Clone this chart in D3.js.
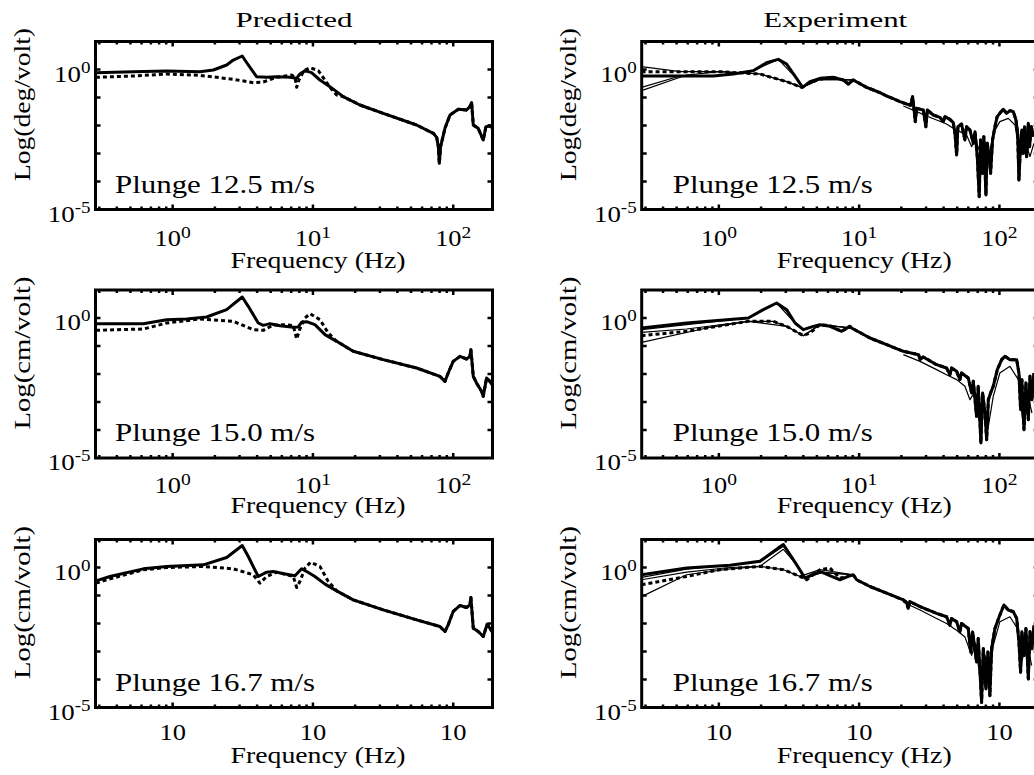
<!DOCTYPE html>
<html>
<head>
<meta charset="utf-8">
<script src="https://cdn.jsdelivr.net/npm/d3@7"></script>
<style>
  body { margin: 0; background: #fff; }
  text { font-family: "Times New Roman", Times, "Liberation Serif", "DejaVu Serif", serif; fill: #000; }
</style>
</head>
<body>
<svg id="chart"></svg>
<script>
// Values as [log10 frequency (Hz), log10 magnitude].
const columnTitles = ["Predicted", "Experiment"];
const speeds = ["12.5", "15.0", "16.7"];
const units = ["deg/volt", "cm/volt", "cm/volt"];
const xTickValues = [1, 10, 100];
const xTickExponents = ["0", "1", "2"];
const showXExponent = [true, true, false];   // bottom row prints bare "10"
const yTickValues = [1, 1e-5];
const yTickExponents = ["0", "-5"];

// ---- Predicted, 12.5 m/s
const predSolidHead125 = [[-0.547,-0.113],[-0.281,-0.077],[-0.043,-0.054],[0.195,-0.077],[0.290,-0.018],[0.385,0.161],[0.432,0.339],[0.496,0.482],[0.539,0.161],[0.598,-0.256],[0.670,-0.280],[0.741,-0.256],[0.836,-0.280],[0.883,-0.315],[0.907,-0.161],[0.943,-0.042],[0.990,-0.113],[1.050,-0.375],[1.121,-0.613]];
const predDashHead125 = [[-0.547,-0.280],[-0.281,-0.232],[-0.043,-0.161],[0.195,-0.208],[0.432,-0.351],[0.575,-0.470],[0.646,-0.446],[0.741,-0.280],[0.848,-0.196],[0.872,-0.280],[0.884,-0.637],[0.900,-0.375],[0.936,-0.042],[0.979,0.065],[1.038,-0.042],[1.086,-0.375],[1.121,-0.637],[1.169,-0.911]];
const predTail125 = [[1.216,-0.970],[1.335,-1.268],[1.501,-1.565],[1.739,-1.982],[1.858,-2.280],[1.882,-2.423],[1.894,-2.756],[1.901,-3.351],[1.910,-2.756],[1.941,-2.101],[1.977,-1.625],[2.036,-1.423],[2.095,-1.446],[2.119,-1.327],[2.131,-1.185],[2.143,-1.982],[2.178,-2.101],[2.214,-2.518],[2.233,-2.042],[2.262,-2.018],[2.285,-2.101]];

// ---- Predicted, 15.0 m/s
const predSolidHead150 = [[-0.546,-0.202],[-0.209,-0.202],[-0.043,-0.060],[0.100,-0.036],[0.242,0.036],[0.385,0.298],[0.496,0.750],[0.539,0.417],[0.610,-0.179],[0.646,-0.262],[0.694,-0.202],[0.765,-0.274],[0.860,-0.333],[0.895,-0.321],[0.919,-0.155],[0.955,-0.131],[1.014,-0.238],[1.086,-0.595]];
const predDashHead150 = [[-0.546,-0.440],[-0.209,-0.393],[-0.043,-0.179],[0.195,-0.036],[0.432,-0.119],[0.575,-0.417],[0.646,-0.440],[0.717,-0.250],[0.812,-0.238],[0.860,-0.274],[0.884,-0.750],[0.903,-0.440],[0.943,0.000],[0.979,0.155],[1.050,-0.060],[1.109,-0.536]];
const predTail150 = [[1.169,-0.833],[1.287,-1.190],[1.501,-1.488],[1.739,-1.786],[1.905,-2.083],[1.941,-2.262],[1.964,-1.964],[2.000,-1.548],[2.048,-1.369],[2.095,-1.464],[2.119,-1.369],[2.126,-1.131],[2.143,-2.083],[2.166,-2.321],[2.202,-2.619],[2.214,-2.798],[2.238,-2.143],[2.261,-2.262],[2.285,-2.440]];

// ---- Predicted, 16.7 m/s
const predSolidHead167 = [[-0.547,-0.476],[-0.447,-0.321],[-0.209,-0.048],[-0.043,0.036],[0.219,0.095],[0.385,0.357],[0.496,0.786],[0.539,0.393],[0.610,-0.321],[0.670,-0.167],[0.717,-0.143],[0.812,-0.238],[0.872,-0.298],[0.919,-0.048],[0.955,-0.143],[1.014,-0.321],[1.086,-0.595]];
const predDashHead167 = [[-0.547,-0.560],[-0.447,-0.405],[-0.209,-0.083],[-0.043,0.000],[0.219,0.036],[0.432,-0.048],[0.575,-0.262],[0.622,-0.560],[0.670,-0.321],[0.741,-0.167],[0.860,-0.321],[0.884,-0.714],[0.907,-0.500],[0.943,-0.024],[0.983,0.190],[1.050,0.036],[1.109,-0.500]];
const predTail167 = [[1.169,-0.833],[1.287,-1.155],[1.501,-1.512],[1.739,-1.869],[1.905,-2.107],[1.941,-2.286],[1.964,-2.048],[2.000,-1.571],[2.048,-1.357],[2.095,-1.429],[2.119,-1.333],[2.126,-1.071],[2.143,-2.167],[2.178,-2.286],[2.214,-2.464],[2.242,-2.024],[2.285,-2.345]];

// ---- Experiment, 12.5 m/s
const expSolidHead125 = [[-0.551,-0.232],[-0.349,-0.232],[-0.040,-0.232],[0.103,-0.161],[0.245,-0.042],[0.340,0.244],[0.424,0.363],[0.483,0.196],[0.554,-0.315],[0.597,-0.637],[0.649,-0.435],[0.721,-0.315],[0.816,-0.280],[0.887,-0.375],[0.923,-0.518]];
const expDashHead125 = [[-0.551,-0.077],[-0.349,-0.077],[0.008,-0.077],[0.293,-0.161],[0.483,-0.435],[0.590,-0.637],[0.649,-0.470],[0.721,-0.351],[0.816,-0.280],[0.887,-0.375],[0.923,-0.518]];
const expNoise125 = [[0.958,-0.375],[1.053,-0.637],[1.101,-0.732],[1.148,-0.827],[1.196,-0.946],[1.243,-1.042],[1.291,-1.149],[1.338,-1.232],[1.367,-1.280],[1.381,-0.970],[1.393,-1.506],[1.400,-1.863],[1.410,-1.387],[1.457,-1.446],[1.476,-2.042],[1.486,-1.446],[1.528,-1.625],[1.576,-1.708],[1.600,-1.863],[1.612,-1.685],[1.647,-1.780],[1.671,-1.899],[1.683,-2.280],[1.695,-3.054],[1.704,-2.042],[1.730,-1.946],[1.754,-2.518],[1.766,-2.042],[1.790,-2.161],[1.814,-2.637],[1.826,-2.220],[1.842,-3.113],[1.856,-4.542],[1.866,-2.518],[1.880,-3.708],[1.889,-2.399],[1.904,-4.482],[1.913,-2.637],[1.928,-3.113],[1.937,-3.708],[1.951,-2.518],[1.968,-2.042],[1.984,-1.685],[2.003,-1.565],[2.027,-1.423],[2.051,-1.565],[2.075,-1.470],[2.099,-1.506],[2.118,-1.804],[2.130,-2.280],[2.139,-3.946],[2.151,-2.637],[2.160,-2.161],[2.170,-2.994],[2.179,-2.042],[2.194,-3.113],[2.206,-1.923],[2.215,-2.756],[2.227,-2.042],[2.244,-2.399]];
const expBand125 = [[1.315,-1.304],[1.410,-1.506],[1.481,-1.661],[1.552,-1.804],[1.623,-1.946],[1.671,-2.101],[1.718,-2.220],[1.766,-2.339],[1.802,-2.756],[1.826,-2.458],[1.873,-3.113],[1.897,-2.637],[1.921,-3.232],[1.956,-2.280],[2.003,-1.863],[2.063,-1.744],[2.111,-1.982],[2.146,-3.113],[2.182,-2.518],[2.218,-3.113],[2.246,-2.637]];
const expThin125 = [
  [[-0.551,0.101],[-0.277,-0.077],[0.008,-0.077],[0.293,-0.161],[0.483,-0.435],[0.590,-0.637],[0.721,-0.351],[0.958,-0.375]],
  [[-0.551,-0.637],[-0.277,-0.232],[-0.040,-0.232],[0.245,-0.042],[0.424,0.363],[0.554,-0.315],[0.597,-0.637],[0.721,-0.315],[0.958,-0.375]],
  [[-0.551,-0.756],[-0.230,-0.196],[0.008,-0.077],[0.293,-0.161],[0.483,-0.435],[0.590,-0.637],[0.721,-0.351],[0.958,-0.375]]
];

// ---- Experiment, 15.0 m/s
const expSolidHead150 = [[-0.551,-0.357],[-0.230,-0.179],[0.210,0.000],[0.317,0.298],[0.412,0.536],[0.483,0.298],[0.543,-0.179],[0.602,-0.417],[0.673,-0.298],[0.721,-0.238],[0.792,-0.298],[0.875,-0.476],[0.934,-0.298]];
const expDashHead150 = [[-0.551,-0.631],[-0.230,-0.476],[0.210,-0.119],[0.388,-0.119],[0.483,-0.298],[0.602,-0.631],[0.649,-0.536],[0.721,-0.238],[0.792,-0.274],[0.875,-0.476],[0.934,-0.298]];
const expNoise150 = [[0.946,-0.357],[1.077,-0.714],[1.196,-0.952],[1.315,-1.190],[1.424,-1.310],[1.434,-1.488],[1.457,-1.393],[1.552,-1.667],[1.623,-1.786],[1.647,-2.024],[1.659,-1.786],[1.695,-1.905],[1.718,-2.202],[1.730,-1.964],[1.778,-2.143],[1.802,-2.679],[1.814,-2.262],[1.837,-3.512],[1.849,-2.440],[1.868,-4.464],[1.880,-2.679],[1.897,-3.393],[1.909,-4.345],[1.921,-2.917],[1.937,-2.679],[1.956,-2.440],[1.985,-1.845],[2.016,-1.488],[2.039,-1.369],[2.075,-1.488],[2.123,-1.488],[2.139,-1.964],[2.151,-3.274],[2.160,-2.202],[2.175,-3.988],[2.189,-2.321],[2.206,-3.631],[2.218,-2.083],[2.232,-2.917],[2.246,-1.964]];
const expBand150 = [[1.315,-1.310],[1.434,-1.548],[1.552,-1.845],[1.623,-2.024],[1.695,-2.202],[1.754,-2.440],[1.790,-2.917],[1.826,-2.619],[1.856,-3.631],[1.889,-3.036],[1.921,-3.869],[1.956,-2.798],[2.003,-1.964],[2.075,-1.726],[2.135,-2.202],[2.165,-3.631],[2.198,-2.679],[2.232,-3.393]];
const expThin150 = [
  [[-0.551,-0.512],[-0.230,-0.393],[0.210,-0.119],[0.388,-0.119],[0.483,-0.298],[0.602,-0.631],[0.721,-0.238],[0.946,-0.357]],
  [[-0.551,-0.869],[-0.087,-0.357],[0.210,-0.119],[0.483,-0.298],[0.602,-0.631],[0.721,-0.238],[0.946,-0.357]],
  [[-0.551,-0.417],[-0.230,-0.238],[0.210,0.000],[0.412,0.536],[0.543,-0.179],[0.602,-0.417],[0.721,-0.238],[0.946,-0.357]]
];

// ---- Experiment, 16.7 m/s
const expSolidHead167 = [[-0.551,-0.258],[-0.230,-0.018],[0.080,0.078],[0.293,0.222],[0.424,0.702],[0.460,0.822],[0.554,0.102],[0.614,-0.378],[0.673,-0.234],[0.733,-0.162],[0.804,-0.318],[0.863,-0.438],[0.923,-0.318],[0.958,-0.258]];
const expDashHead167 = [[-0.551,-0.618],[-0.230,-0.318],[0.008,-0.078],[0.293,0.042],[0.460,-0.078],[0.578,-0.318],[0.626,-0.438],[0.721,-0.078],[0.792,-0.018],[0.863,-0.378],[0.958,-0.258]];
const expNoise167 = [[0.982,-0.438],[1.077,-0.678],[1.196,-0.918],[1.315,-1.158],[1.338,-1.243],[1.350,-1.459],[1.362,-1.219],[1.434,-1.399],[1.552,-1.639],[1.623,-1.759],[1.647,-2.059],[1.659,-1.819],[1.695,-1.939],[1.718,-2.299],[1.730,-1.999],[1.778,-2.179],[1.795,-3.019],[1.809,-2.299],[1.837,-3.379],[1.849,-2.539],[1.873,-4.820],[1.885,-2.899],[1.904,-4.340],[1.918,-3.019],[1.932,-4.580],[1.944,-2.899],[1.968,-2.179],[2.003,-1.699],[2.032,-1.339],[2.063,-1.519],[2.099,-1.579],[2.123,-1.819],[2.139,-2.659],[2.151,-3.739],[2.160,-2.299],[2.175,-3.139],[2.189,-2.179],[2.206,-3.979],[2.218,-2.299],[2.232,-2.899],[2.246,-2.059]];
const expBand167 = [[1.315,-1.243],[1.434,-1.519],[1.552,-1.819],[1.623,-1.999],[1.695,-2.239],[1.754,-2.479],[1.802,-3.139],[1.826,-2.719],[1.861,-3.860],[1.897,-3.139],[1.928,-4.100],[1.956,-2.779],[2.003,-1.939],[2.075,-1.759],[2.128,-2.179],[2.159,-3.379],[2.194,-2.659],[2.230,-3.499]];
const expThin167 = [
  [[-0.551,-0.438],[-0.230,-0.162],[0.080,0.000],[0.293,0.042],[0.460,-0.078],[0.578,-0.318],[0.721,-0.078],[0.958,-0.258]],
  [[-0.551,-1.039],[-0.230,-0.258],[0.080,-0.050],[0.293,0.042],[0.460,0.650],[0.554,0.102],[0.614,-0.378],[0.733,-0.162],[0.958,-0.258]],
  [[-0.551,-0.354],[-0.230,-0.060],[0.293,0.200],[0.460,0.760],[0.554,0.080],[0.614,-0.400],[0.733,-0.180],[0.958,-0.258]]
];

const panels = [
  {col: 0, row: 0, solid: predSolidHead125.concat(predTail125), dashed: predDashHead125.concat(predTail125), thin: []},
  {col: 1, row: 0, solid: expSolidHead125.concat(expNoise125), dashed: expDashHead125.concat(expNoise125), thin: expThin125.concat([expBand125])},
  {col: 0, row: 1, solid: predSolidHead150.concat(predTail150), dashed: predDashHead150.concat(predTail150), thin: []},
  {col: 1, row: 1, solid: expSolidHead150.concat(expNoise150), dashed: expDashHead150.concat(expNoise150), thin: expThin150.concat([expBand150])},
  {col: 0, row: 2, solid: predSolidHead167.concat(predTail167), dashed: predDashHead167.concat(predTail167), thin: []},
  {col: 1, row: 2, solid: expSolidHead167.concat(expNoise167), dashed: expDashHead167.concat(expNoise167), thin: expThin167.concat([expBand167])}
];

// layout
const W = 1034, H = 775;
const panelW = 397, panelH = 168;
const colX = [95.5, 641.7];
const rowY = [41.5, 290, 539.5];
const plungeDx = [19.5, 31];
const xLabelDy = [36, 35, 32];
const freqLabelDy = [58, 55, 55];

const svg = d3.select("#chart").attr("width", W).attr("height", H);

const x = d3.scaleLog().domain([Math.pow(10, -0.55), Math.pow(10, 2.28)]).range([0, panelW]);
const y = d3.scaleLog().domain([1e-5, 10]).range([panelH, 0]);
const line = d3.line()
  .x(d => x(Math.pow(10, d[0])))
  .y(d => y(Math.pow(10, d[1])));

// column titles
columnTitles.forEach((t, c) => {
  svg.append("text")
    .attr("x", colX[c] + panelW / 2 - (c == 0 ? 0 : 5))
    .attr("y", 27)
    .attr("text-anchor", "middle")
    .attr("textLength", c == 0 ? 117 : 144)
    .attr("lengthAdjust", "spacingAndGlyphs")
    .style("font-size", "22px")
    .text(t);
});

panels.forEach((p, i) => {
  let g = svg.append("g").attr("transform", "translate(" + colX[p.col] + "," + rowY[p.row] + ")");

  g.append("clipPath").attr("id", "clip" + i)
    .append("rect").attr("width", panelW).attr("height", panelH);

  let plot = g.append("g").attr("clip-path", "url(#clip" + i + ")");

  p.thin.forEach(t => {
    plot.append("path").attr("d", line(t))
      .attr("fill", "none").attr("stroke", "#000").attr("stroke-width", 1.2)
      .attr("stroke-linejoin", "round");
  });

  plot.append("path").attr("d", line(p.dashed))
    .attr("fill", "none").attr("stroke", "#000").attr("stroke-width", 3)
    .attr("stroke-dasharray", "4,3").attr("stroke-linejoin", "round");

  plot.append("path").attr("d", line(p.solid))
    .attr("fill", "none").attr("stroke", "#000").attr("stroke-width", 3)
    .attr("stroke-linejoin", "round");

  // inward ticks on all four sides
  let xt = x.ticks();
  let tickLen = (v) => xTickValues.indexOf(v) >= 0 ? 5 : 3;
  g.append("g").selectAll("line").data(xt).join("line")
    .attr("x1", d => x(d)).attr("x2", d => x(d))
    .attr("y1", panelH).attr("y2", d => panelH - tickLen(d))
    .attr("stroke", "#000").attr("stroke-width", 2.5);
  g.append("g").selectAll("line").data(xt).join("line")
    .attr("x1", d => x(d)).attr("x2", d => x(d))
    .attr("y1", 0).attr("y2", d => tickLen(d))
    .attr("stroke", "#000").attr("stroke-width", 2.5);

  let yt = [1e-4, 1e-3, 1e-2, 1e-1, 1];
  g.append("g").selectAll("line").data(yt).join("line")
    .attr("x1", 0).attr("x2", 5)
    .attr("y1", d => y(d)).attr("y2", d => y(d))
    .attr("stroke", "#000").attr("stroke-width", 2.5);
  g.append("g").selectAll("line").data(yt).join("line")
    .attr("x1", panelW).attr("x2", panelW - 5)
    .attr("y1", d => y(d)).attr("y2", d => y(d))
    .attr("stroke", "#000").attr("stroke-width", 2.5);

  g.append("rect")
    .attr("width", panelW).attr("height", panelH)
    .attr("fill", "none").attr("stroke", "#000").attr("stroke-width", 3);

  // x tick labels
  xTickValues.forEach((v, k) => {
    let t = g.append("text")
      .attr("transform", "translate(" + x(v) + "," + (panelH + xLabelDy[p.row]) + ") scale(1.15,1)")
      .attr("text-anchor", "middle")
      .style("font-size", "23px");
    t.append("tspan").text("10");
    if (showXExponent[p.row]) {
      t.append("tspan").attr("dy", -8).style("font-size", "17px").text(xTickExponents[k]);
    }
  });

  // y tick labels
  yTickValues.forEach((v, k) => {
    let t = g.append("text")
      .attr("transform", "translate(-5," + (y(v) + 12) + ") scale(1.12,1)")
      .attr("text-anchor", "end")
      .style("font-size", "24px");
    t.append("tspan").text("10");
    t.append("tspan").attr("dy", -9).style("font-size", "17px").text(yTickExponents[k]);
  });

  // axis titles
  g.append("text")
    .attr("x", panelW / 2 + 24).attr("y", panelH + freqLabelDy[p.row])
    .attr("text-anchor", "middle")
    .attr("textLength", 175).attr("lengthAdjust", "spacingAndGlyphs")
    .style("font-size", "23px")
    .text("Frequency (Hz)");

  g.append("text")
    .attr("transform", "translate(-66," + (panelH / 2 - 21) + ") rotate(-90)")
    .attr("text-anchor", "middle")
    .attr("textLength", 153).attr("lengthAdjust", "spacingAndGlyphs")
    .style("font-size", "23px")
    .text("Log(" + units[p.row] + ")");

  g.append("text")
    .attr("x", plungeDx[p.col]).attr("y", panelH - 17)
    .attr("textLength", 200).attr("lengthAdjust", "spacingAndGlyphs")
    .style("font-size", "25px")
    .text("Plunge " + speeds[p.row] + " m/s");
});
</script>
</body>
</html>
